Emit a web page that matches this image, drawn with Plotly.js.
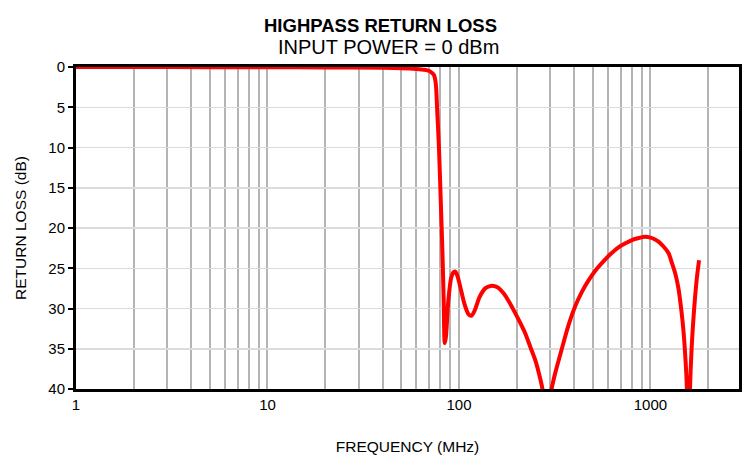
<!DOCTYPE html>
<html>
<head>
<meta charset="utf-8">
<script src="https://cdn.plot.ly/plotly-3.0.1.min.js"></script>
<style>html,body{margin:0;padding:0;background:#fff;}#chart{width:744px;height:459px;}</style>
</head>
<body>
<div id="chart"></div>
<script>
// Frequency (MHz) and return loss (dB)
const freqMHz = [1, 2, 5, 10, 20, 40, 50, 60, 66, 70, 72, 74, 75.6, 77, 78.7, 80.3, 81.9, 83.2, 84.3, 85.5, 88, 91, 93.5, 95.3, 98, 102, 107, 112, 116, 121, 128, 137, 146, 152, 160, 171, 182, 193, 207, 222, 236, 251, 263, 275, 288, 302, 316, 332, 352, 374, 405, 439, 475, 515, 560, 615, 681, 740, 800, 870, 938, 1000, 1050, 1101, 1170, 1242, 1292, 1345, 1400, 1456, 1490, 1517, 1545, 1585, 1609, 1640, 1675, 1742, 1794];
const returnLossDB = [0, 0, 0.02, 0.03, 0.05, 0.1, 0.15, 0.25, 0.35, 0.5, 0.7, 1.0, 2.0, 5.5, 10.3, 16.5, 22.7, 29, 34.3, 33.5, 29, 26.2, 25.5, 25.4, 25.9, 27.5, 29.5, 30.7, 30.9, 30.2, 28.6, 27.5, 27.2, 27.2, 27.4, 28.1, 29.1, 30.2, 31.6, 33.1, 34.8, 36.5, 38.3, 40.5, 50, 40.5, 38.3, 36.4, 34.2, 32.0, 29.7, 27.9, 26.5, 25.3, 24.3, 23.3, 22.4, 21.9, 21.5, 21.25, 21.1, 21.2, 21.4, 21.7, 22.3, 23.1, 24.3, 25.6, 27.5, 30.6, 33.0, 35.6, 39.0, 50, 40, 35.0, 31.4, 26.5, 24.0];

const xGridVals = [1,2,3,4,5,6,7,8,9,10,20,30,40,50,60,70,80,90,100,200,300,400,500,600,700,800,900,1000,2000];
const xTickText = ['1','','','','','','','','','10','','','','','','','','','100','','','','','','','','','1000',''];
const yTickVals = [0,5,10,15,20,25,30,35,40];
const titleMain = 'HIGHPASS RETURN LOSS';
const titleSub = 'INPUT POWER = 0 dBm';

const font = "'Liberation Sans', Arial, sans-serif";

const trace = {
  x: freqMHz,
  y: returnLossDB,
  type: 'scatter',
  mode: 'lines',
  line: {color: '#ff0000', width: 4, shape: 'spline', smoothing: 0.8},
  hoverinfo: 'x+y'
};

const layout = {
  width: 744,
  height: 459,
  margin: {l: 76, r: 5, t: 67, b: 70},
  paper_bgcolor: '#ffffff',
  plot_bgcolor: '#ffffff',
  showlegend: false,
  font: {family: font, color: '#000', size: 15},
  annotations: [
    {text: '<b>' + titleMain + '</b>', xref: 'paper', yref: 'paper', x: (380 - 76) / 663, y: (389 - 25) / 322,
     xanchor: 'center', yanchor: 'middle', showarrow: false, font: {family: font, size: 18.5, color: '#000'}},
    {text: titleSub, xref: 'paper', yref: 'paper', x: (388 - 76) / 663, y: (389 - 47) / 322,
     xanchor: 'center', yanchor: 'middle', showarrow: false, font: {family: font, size: 20, color: '#000'}}
  ],
  xaxis: {
    type: 'log',
    range: [0, Math.log10(2900)],
    tickvals: xGridVals,
    ticktext: xTickText,
    ticks: '',
    showgrid: true,
    gridcolor: '#b4b4b4',
    gridwidth: 2,
    showline: true,
    linecolor: '#000',
    linewidth: 3,
    mirror: true,
    zeroline: false,
    tickfont: {family: font, size: 15, color: '#000'},
    title: {text: 'FREQUENCY (MHz)', font: {family: font, size: 15.5, color: '#000'}, standoff: 30}
  },
  yaxis: {
    range: [40, 0],
    tickvals: yTickVals,
    ticks: 'outside',
    ticklen: 5,
    tickwidth: 2,
    tickcolor: '#000',
    showgrid: true,
    gridcolor: '#dcdcdc',
    gridwidth: 1.5,
    showline: true,
    linecolor: '#000',
    linewidth: 3,
    mirror: true,
    zeroline: false,
    tickfont: {family: font, size: 15, color: '#000'},
    title: {text: 'RETURN LOSS (dB)', font: {family: font, size: 15.5, color: '#000'}, standoff: 18}
  }
};

Plotly.newPlot('chart', [trace], layout, {displayModeBar: false, staticPlot: true});
</script>
</body>
</html>
